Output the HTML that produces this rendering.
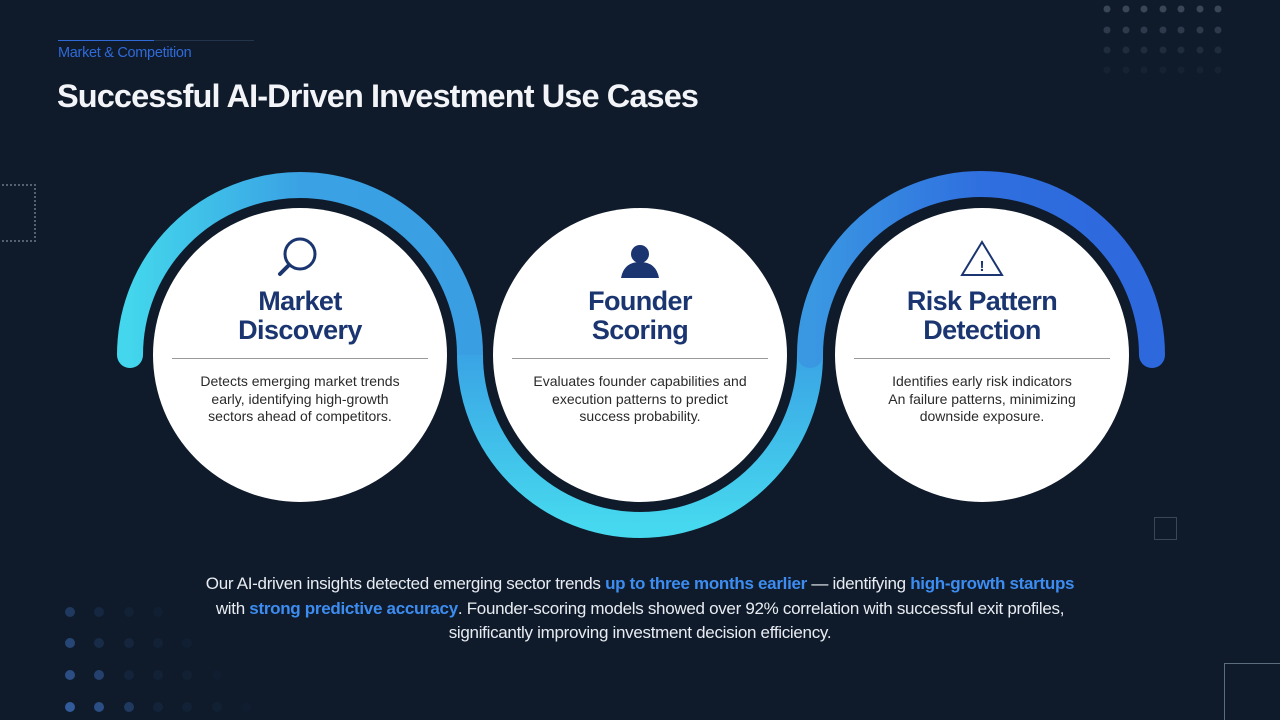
<!DOCTYPE html>
<html style="overflow:hidden;width:1280px;height:720px"><head><meta charset="utf-8"><style>
*{margin:0;padding:0;box-sizing:border-box}
body{width:1280px;height:720px;background:#0f1b2b;position:relative;overflow:hidden;font-family:"Liberation Sans",sans-serif}
.abs{position:absolute}
.card{position:absolute;width:294px;text-align:center}
.card h2{color:#1a3570;font-size:27px;line-height:29px;font-weight:bold;letter-spacing:-0.6px}
.card .hr{height:1px;background:#9a9a9a;margin:13px 19px 14px}
.card p{color:#2a2a2a;font-size:14px;line-height:17.5px}
.bt{position:absolute;left:0;width:1280px;text-align:center;color:#e8ecf2;font-size:17px;line-height:24.5px;top:572px;letter-spacing:-0.3px}
.bt b{color:#3d8cf0}
</style></head><body>
<div class="abs" style="left:58px;top:40px;width:196px;height:1px;background:#23344d"></div>
<div class="abs" style="left:58px;top:40px;width:96px;height:1px;background:#2f6ad8"></div>
<div class="abs" style="left:58px;top:45px;color:#2f6ad8;font-size:14.5px;letter-spacing:-0.3px">Market &amp; Competition</div>
<div class="abs" style="left:57px;top:78px;color:#f2f4f7;font-size:32.5px;font-weight:bold;letter-spacing:-0.9px">Successful AI-Driven Investment Use Cases</div>
<div class="abs" style="left:-2px;top:184px;width:38px;height:58px;border:2px dotted #56606e"></div>
<div class="abs" style="left:1154px;top:517px;width:23px;height:23px;border:1px solid #3a4555"></div>
<div class="abs" style="left:1224px;top:663px;width:56px;height:57px;border-left:1px solid #5d6d80;border-top:1px solid #5d6d80"></div>
<svg class="abs" style="left:0;top:0" width="1280" height="720">
<defs>
<linearGradient id="g1" x1="130" y1="355" x2="470" y2="355" gradientUnits="userSpaceOnUse"><stop offset="0" stop-color="#43d6ec"/><stop offset="0.5" stop-color="#3aa2e4"/><stop offset="1" stop-color="#3a9ee3"/></linearGradient>
<linearGradient id="g2" x1="640" y1="355" x2="640" y2="525" gradientUnits="userSpaceOnUse"><stop offset="0" stop-color="#3aa4e5"/><stop offset="1" stop-color="#46d8ee"/></linearGradient>
<linearGradient id="g3" x1="810" y1="355" x2="1152" y2="355" gradientUnits="userSpaceOnUse"><stop offset="0" stop-color="#3a98e2"/><stop offset="0.5" stop-color="#2f6fdf"/><stop offset="1" stop-color="#2d68dd"/></linearGradient>
</defs>
<path d="M130 355 A170 170 0 0 1 470 355" fill="none" stroke="url(#g1)" stroke-width="26" stroke-linecap="round"/>
<path d="M470 355 A170 170 0 0 0 810 355" fill="none" stroke="url(#g2)" stroke-width="26"/>
<path d="M810 355 A170 170 0 0 1 1152 355" fill="none" stroke="url(#g3)" stroke-width="26" stroke-linecap="round"/>
<circle cx="300" cy="355" r="147" fill="#fff"/>
<circle cx="640" cy="355" r="147" fill="#fff"/>
<circle cx="982" cy="355" r="147" fill="#fff"/>
<circle cx="300" cy="254" r="15" fill="none" stroke="#1a3570" stroke-width="3"/>
<line x1="289" y1="265" x2="280" y2="274" stroke="#1a3570" stroke-width="4" stroke-linecap="round"/>
<circle cx="640" cy="254" r="9" fill="#1a3570"/>
<path d="M621 278 Q624 262 640 262 Q656 262 659 278 Z" fill="#1a3570"/>
<path d="M982 242 L1002 275 L962 275 Z" fill="none" stroke="#1a3570" stroke-width="2"/>
<text x="982" y="271" font-size="15" font-weight="bold" fill="#1a3570" text-anchor="middle" font-family="Liberation Sans">!</text>
<g id="dots"></g>
</svg>
<div class="card" style="left:153px;top:287px"><h2>Market<br>Discovery</h2><div class="hr"></div><p>Detects emerging market trends<br>early, identifying high-growth<br>sectors ahead of competitors.</p></div>
<div class="card" style="left:493px;top:287px"><h2>Founder<br>Scoring</h2><div class="hr"></div><p>Evaluates founder capabilities and<br>execution patterns to predict<br>success probability.</p></div>
<div class="card" style="left:835px;top:287px"><h2>Risk Pattern<br>Detection</h2><div class="hr"></div><p>Identifies early risk indicators<br>An failure patterns, minimizing<br>downside exposure.</p></div>
<div class="bt">Our AI-driven insights detected emerging sector trends <b>up to three months earlier</b> — identifying <b>high-growth startups</b><br>with <b>strong predictive accuracy</b>. Founder-scoring models showed over 92% correlation with successful exit profiles,<br>significantly improving investment decision efficiency.</div>
<script>
var g=document.getElementById('dots'),s='';
var xs=[1107,1126,1144,1163,1181,1200,1218],ys=[9,30,50,70],op=[0.35,0.25,0.14,0.06];
for(var r=0;r<4;r++)for(var c=0;c<7;c++)s+='<circle cx="'+xs[c]+'" cy="'+ys[r]+'" r="3.5" fill="#8a97aa" opacity="'+op[r]+'"/>';
var bx=[70,99,129,158,187,217,246],by=[612,643,675,707];
var bo=[[.35,.15,.08,.05,0,0,0],[.5,.2,.12,.08,.05,0,0],[.6,.45,.1,.08,.06,.04,0],[.75,.6,.35,.1,.08,.06,.04]];
for(var r=0;r<4;r++)for(var c=0;c<7;c++)if(bo[r][c])s+='<circle cx="'+bx[c]+'" cy="'+by[r]+'" r="5" fill="#3e72c0" opacity="'+bo[r][c]+'"/>';
g.innerHTML=s;
</script>
</body></html>
